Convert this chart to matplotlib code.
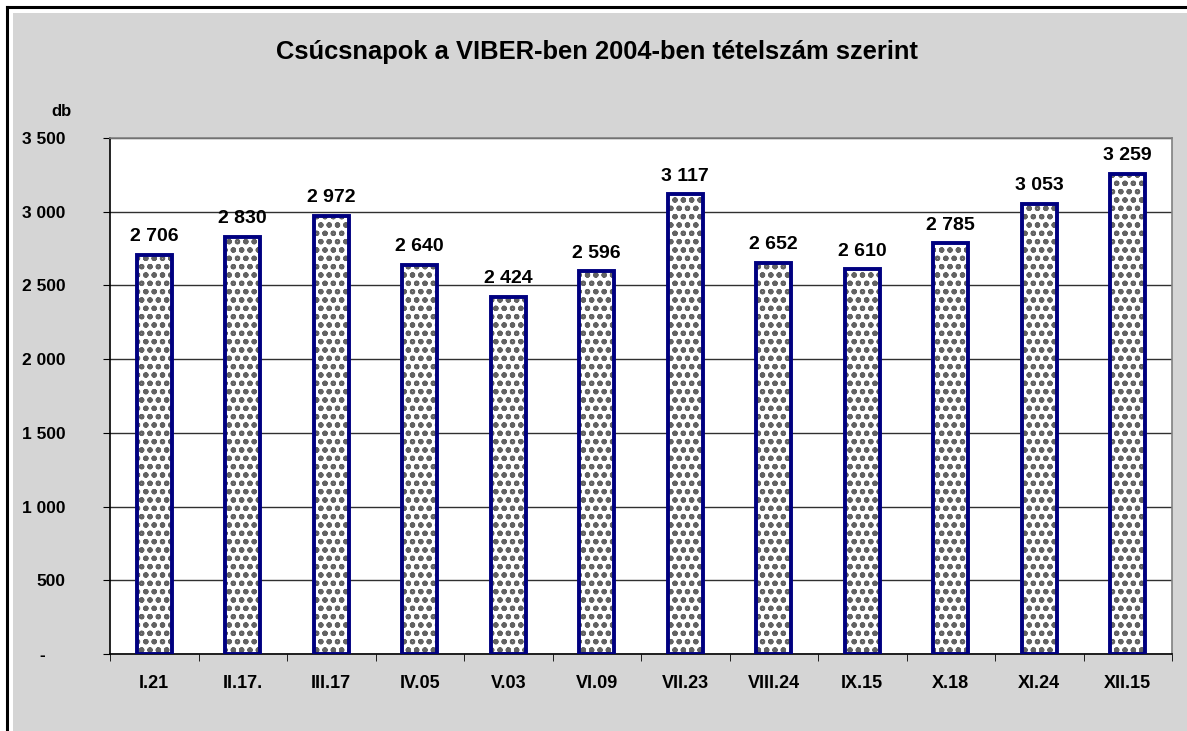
import matplotlib
matplotlib.use('Agg')
import matplotlib.pyplot as plt
from matplotlib.patches import Rectangle
from matplotlib.lines import Line2D

# Peak days in VIBER, 2004, by number of items
days = ['I.21', 'II.17.', 'III.17', 'IV.05', 'V.03', 'VI.09',
        'VII.23', 'VIII.24', 'IX.15', 'X.18', 'XI.24', 'XII.15']
counts = [2706, 2830, 2972, 2640, 2424, 2596, 3117, 2652, 2610, 2785, 3053, 3259]
yticks = [0, 500, 1000, 1500, 2000, 2500, 3000, 3500]


def fmt(v):
    # hungarian style thousands separator, "-" for zero
    if v == 0:
        return '-    '
    return '{:,}'.format(v).replace(',', ' ')


plt.rcParams['font.family'] = ['Liberation Sans', 'DejaVu Sans']
plt.rcParams['hatch.linewidth'] = 1.5

W, H = 1187, 731
fig = plt.figure(figsize=(W / 100, H / 100), dpi=100, facecolor='white')

# grey backdrop and the black frame on the left/top
fig.patches.append(Rectangle((13 / W, 0), 1, 1 - 13 / H, transform=fig.transFigure,
                             facecolor='#d5d5d5', edgecolor='none', zorder=-10))
fig.lines.append(Line2D([7 / W, 7 / W], [0, 1 - 7 / H], transform=fig.transFigure,
                        color='black', lw=2.2, zorder=-9))
fig.lines.append(Line2D([7 / W, 1], [1 - 7 / H, 1 - 7 / H], transform=fig.transFigure,
                        color='black', lw=2.2, zorder=-9))

ax = fig.add_axes([110 / W, 1 - 654 / H, (1172 - 110) / W, (654 - 138) / H])
ax.set_facecolor('white')

x = list(range(len(days)))
# patterned fill (hatch takes the edge colour), then the navy outline on top
ax.bar(x, counts, width=0.39, color='white', edgecolor='#636363', linewidth=0,
       hatch='oo', zorder=3)
ax.bar(x, counts, width=0.39, color='none', edgecolor='#000080', linewidth=2.8, zorder=4)

for xi, v in zip(x, counts):
    ax.text(xi, v + 65, fmt(v), ha='center', va='bottom', fontsize=14,
            fontweight='bold', zorder=5)

ax.set_xlim(-0.5, len(days) - 0.5)
ax.set_ylim(0, 3500)
ax.set_yticks(yticks)
ax.set_yticklabels([fmt(v) for v in yticks], fontsize=12.5, fontweight='bold')
ax.set_xticks(x)
ax.set_xticklabels(days, fontsize=13, fontweight='bold')
ax.set_xticks([i - 0.5 for i in range(len(days) + 1)], minor=True)
ax.tick_params(axis='x', which='major', length=0, pad=15)
ax.tick_params(axis='x', which='minor', length=5, direction='out', color='black')
ax.tick_params(axis='y', length=5, direction='out', pad=27, color='black')

ax.yaxis.grid(True, color='#303030', linewidth=1)
ax.set_axisbelow(True)

ax.spines['left'].set_color('black')
ax.spines['bottom'].set_color('black')
ax.spines['top'].set_color('#808080')
ax.spines['right'].set_color('#808080')
for s in ax.spines.values():
    s.set_linewidth(1.2)

fig.text(597 / W, 1 - 52 / H, 'Csúcsnapok a VIBER-ben 2004-ben tételszám szerint',
         ha='center', va='center', fontsize=18.4, fontweight='bold')
fig.text(62 / W, 1 - 111 / H, 'db', ha='center', va='center', fontsize=12,
         fontweight='bold')

fig.savefig('out.png', dpi=100, facecolor=fig.get_facecolor())
